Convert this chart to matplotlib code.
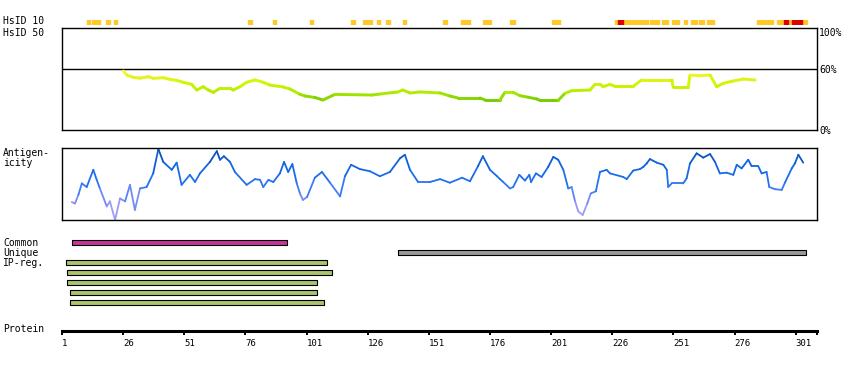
import numpy as np
import matplotlib
matplotlib.use("Agg")
import matplotlib.pyplot as plt
from matplotlib.collections import LineCollection
from matplotlib.colors import LinearSegmentedColormap, Normalize

plt.rcParams["font.family"] = "DejaVu Sans Mono"
plt.rcParams["font.size"] = 7

# protein length / axis
SEQ_END = 309.6
prot_ticks = [1, 26, 51, 76, 101, 126, 151, 176, 201, 226, 251, 276, 301]

# HsID 10 blocks (residue ranges)
hs10_yellow_start = [11.2, 13.3, 19.0, 22.3, 77.0, 87.3, 102.4, 119.2, 124.1, 129.8, 133.5, 140.4,
                     156.8, 164.1, 173.1, 184.2, 201.4, 227.1, 238.3, 241.5, 246.2, 250.4, 255.3,
                     258.2, 261.5, 264.6, 285.0, 293.3]
hs10_yellow_end = [12.4, 16.5, 20.6, 23.5, 78.6, 88.6, 103.6, 120.8, 127.8, 131.0, 135.1, 141.7,
                   158.4, 167.8, 176.4, 186.2, 204.6, 238.1, 240.7, 245.2, 248.6, 253.4, 256.4,
                   260.6, 263.4, 267.6, 291.6, 305.6]
hs10_red_start = [228.5, 296.2, 299.3]
hs10_red_end = [230.5, 298.0, 303.7]

# HsID 50 identity profile (%)
hs50_pos = [26.1, 27.5, 30.2, 32.9, 36.3, 38.3, 42.4, 45.2, 47.9, 50.6, 54.0, 56.1, 58.8, 60.8,
            62.9, 65.6, 69.7, 71.0, 73.8, 76.5, 79.9, 83.3, 86.0, 91.5, 94.2, 98.3, 100.4, 104.4,
            107.7, 112.6, 127.9, 131.0, 138.4, 140.4, 143.3, 147.4, 155.6, 159.6, 162.9, 171.9,
            174.0, 180.1, 182.1, 185.5, 188.3, 191.7, 195.1, 196.4, 203.9, 206.7, 209.4, 216.9,
            218.9, 221.0, 222.3, 225.1, 227.1, 234.6, 238.0, 250.3, 250.9, 257.1, 257.8, 261.9,
            266.0, 268.7, 271.4, 275.5, 279.6, 284.4]
hs50_val = [58.0, 54.0, 51.8, 51.0, 52.4, 50.8, 51.4, 49.8, 48.8, 46.9, 44.9, 39.3, 42.6, 39.3,
            37.0, 41.0, 41.0, 39.3, 42.6, 46.9, 49.2, 46.9, 44.2, 42.3, 40.3, 35.1, 33.4, 32.0,
            29.5, 35.0, 34.4, 35.4, 37.4, 39.3, 36.4, 37.4, 36.4, 33.4, 31.5, 31.5,
            29.5, 29.5, 37.0, 37.0, 33.7, 32.2, 30.5, 29.2, 29.2, 36.1, 38.6, 39.3,
            44.9, 44.9, 42.6, 44.9, 43.0, 43.0, 49.2, 49.2, 42.6, 42.6, 54.0, 53.5,
            54.0, 42.6, 45.9, 48.2, 50.1, 49.2]

# antigenicity profile (relative)
ant_pos = [5.0, 6.3, 7.7, 9.1, 11.1, 13.8, 15.2, 16.5, 19.3, 20.6, 22.7, 24.7, 26.8, 28.8, 30.8,
           32.9, 35.6, 38.3, 40.4, 42.4, 45.9, 47.9, 49.9, 53.3, 55.4, 57.4, 61.5, 64.3, 65.6,
           67.2, 69.7, 71.7, 76.5, 79.9, 82.0, 83.3, 85.4, 87.4, 90.1, 91.8, 93.5, 95.2, 97.0,
           98.3, 99.5, 101.2, 104.4, 107.3, 110.6, 114.7, 116.7, 119.2, 122.8, 126.9, 131.0,
           135.1, 139.2, 141.2, 143.3, 146.6, 151.5, 155.6, 159.6, 164.6, 167.8, 171.1, 173.1,
           176.0, 178.9, 180.1, 181.4, 184.2, 185.5, 188.0, 190.3, 192.1, 192.8, 194.8, 197.1,
           199.8, 201.9, 203.9, 206.0, 208.0, 209.4, 210.8, 212.1, 213.9, 215.8, 217.2, 219.3,
           221.0, 223.7, 225.1, 230.5, 231.9, 234.6, 237.3, 238.7, 240.1, 241.4, 244.2, 246.9,
           248.3, 248.9, 250.3, 255.0, 256.4, 257.8, 260.5, 263.2, 266.0, 268.0, 270.0, 272.8,
           275.5, 276.9, 278.9, 281.6, 283.0, 285.7, 287.1, 289.1, 290.2, 292.5, 295.3, 296.6,
           299.4, 300.7, 302.1, 304.1]
ant_val = [0.25, 0.23, 0.35, 0.51, 0.46, 0.70, 0.56, 0.44, 0.19, 0.26, 0.00, 0.30, 0.26, 0.49, 0.14,
           0.44, 0.46, 0.65, 0.99, 0.81, 0.70, 0.80, 0.49, 0.63, 0.53, 0.65, 0.81, 0.96, 0.84,
           0.89, 0.81, 0.67, 0.49, 0.57, 0.56, 0.46, 0.56, 0.53, 0.65, 0.81, 0.67, 0.78, 0.51,
           0.37, 0.28, 0.32, 0.59, 0.67, 0.52, 0.33, 0.61, 0.77, 0.71, 0.68, 0.61,
           0.67, 0.86, 0.91, 0.70, 0.53, 0.53, 0.57, 0.52, 0.59, 0.54, 0.75, 0.89,
           0.70, 0.61, 0.57, 0.53, 0.44, 0.46, 0.63, 0.55, 0.63, 0.53, 0.65, 0.60,
           0.74, 0.88, 0.84, 0.70, 0.44, 0.46, 0.26, 0.12, 0.07, 0.23, 0.37, 0.40,
           0.67, 0.70, 0.65, 0.60, 0.57, 0.69, 0.71, 0.74, 0.79, 0.85, 0.80, 0.77,
           0.70, 0.46, 0.51, 0.51, 0.58, 0.79, 0.93, 0.87, 0.92, 0.81, 0.65, 0.66,
           0.63, 0.77, 0.72, 0.84, 0.75, 0.75, 0.65, 0.67, 0.46, 0.43, 0.42, 0.52,
           0.72, 0.79, 0.91, 0.80]

# feature bars
common_range = (5, 93)
unique_range = (138.5, 305.3)
ipreg_start = [2.5, 3.2, 3.2, 4.4, 4.4]
ipreg_end = [109.5, 111.5, 105.4, 105.4, 108.3]

W, H = 850, 370
fig = plt.figure(figsize=(W / 100, H / 100), dpi=100)

X0, X1 = 62, 816.7
def add_ax(top, bottom):
    return fig.add_axes([X0 / W, 1 - bottom / H, (X1 - X0) / W, (bottom - top) / H])

def colored_line(ax, x, y, cmap, norm, lw):
    pts = np.column_stack([x, y])
    segs = np.stack([pts[:-1], pts[1:]], axis=1)
    mid = (np.asarray(y[:-1]) + np.asarray(y[1:])) / 2
    lc = LineCollection(segs, colors=cmap(norm(mid)), linewidth=lw, capstyle="round", clip_on=False)
    ax.add_collection(lc)

# HsID 10 strip ---------------------------------------------------------------
ax10 = add_ax(20.3, 25.0)
ax10.broken_barh([(s, e - s) for s, e in zip(hs10_yellow_start, hs10_yellow_end)], (0, 1), color="#ffc826")
ax10.broken_barh([(s, e - s) for s, e in zip(hs10_red_start, hs10_red_end)], (0, 1), color="#e00000")
ax10.set_xlim(1, SEQ_END)
ax10.set_ylim(0, 1)
ax10.axis("off")

# HsID 50 panel ---------------------------------------------------------------
ax50 = add_ax(28.3, 130)
ax50.set_xlim(1, SEQ_END)
ax50.set_ylim(0, 100)
ax50.axhline(60, color="black", lw=1.0)
cmap50 = LinearSegmentedColormap.from_list("hs50", [
    (0.0, "#5cc000"), (0.14, "#78d000"), (0.35, "#b4ec00"), (0.6, "#d0f600"),
    (0.8, "#e8f420"), (1.0, "#ffff40")])
colored_line(ax50, hs50_pos, hs50_val, cmap50, Normalize(25, 60), 2.1)
for s in ax50.spines.values():
    s.set_linewidth(1.0)
ax50.set_xticks([])
ax50.set_yticks([])

# antigenicity panel ------------------------------------------------------------
axa = add_ax(148.3, 220)
axa.set_xlim(1, SEQ_END)
axa.set_ylim(0, 1)
cmapa = LinearSegmentedColormap.from_list("ant", [
    (0.0, "#b0a8f8"), (0.25, "#8c90f4"), (0.4, "#4a80f8"), (0.55, "#2272f0"),
    (0.8, "#0d62dc"), (1.0, "#0a45a0")])
colored_line(axa, ant_pos, ant_val, cmapa, Normalize(0, 1), 1.3)
for s in axa.spines.values():
    s.set_linewidth(1.0)
axa.set_xticks([])
axa.set_yticks([])

# feature bars ----------------------------------------------------------------
axb = add_ax(237.3, 307.3)
axb.set_xlim(1, SEQ_END)
axb.set_ylim(6.5, -0.5)
bh = 0.45
axb.broken_barh([(common_range[0], common_range[1] - common_range[0])], (0 - bh / 2, bh),
                facecolor="#c8359a", edgecolor="black", lw=0.8)
axb.broken_barh([(unique_range[0], unique_range[1] - unique_range[0])], (1 - bh / 2, bh),
                facecolor="#999999", edgecolor="black", lw=0.8)
for i, (s, e) in enumerate(zip(ipreg_start, ipreg_end)):
    axb.broken_barh([(s, e - s)], (2 + i - bh / 2, bh), facecolor="#a9c46c", edgecolor="black", lw=0.8)
axb.axis("off")

# protein axis ----------------------------------------------------------------
axp = add_ax(329.7, 330.7)
axp.set_xlim(1, SEQ_END)
for k in ["top", "left", "right"]:
    axp.spines[k].set_visible(False)
axp.spines["bottom"].set_linewidth(2.2)
axp.set_yticks([])
axp.set_xticks(prot_ticks)
axp.set_xticklabels([str(t) for t in prot_ticks], fontsize=6.5)
axp.set_xticks([SEQ_END], minor=True)
axp.tick_params(axis="x", which="both", direction="out", length=3, width=1.4, pad=3)
for lbl in axp.get_xticklabels():
    lbl.set_ha("left")

# labels --------------------------------------------------------------------------
def label(x, y, s, **kw):
    fig.text(x / W, 1 - y / H, s, va="center", ha="left", **kw)

label(3, 21.5, "HsID 10")
label(3, 32.5, "HsID 50")
label(819, 32.5, "100%")
label(819, 70, "60%")
label(819, 130.5, "0%")
label(3, 153, "Antigen-")
label(3, 163, "icity")
label(3, 243, "Common")
label(3, 253, "Unique")
label(3, 263, "IP-reg.")
label(3, 329.5, "Protein")

fig.savefig("out.png", dpi=100)
